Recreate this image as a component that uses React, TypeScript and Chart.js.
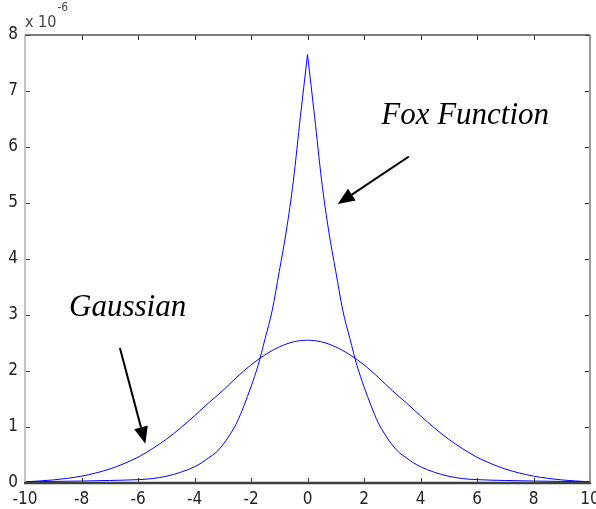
import React, { useEffect, useRef } from "react";
import { Chart, registerables } from "chart.js";
Chart.register(...registerables);

// Gaussian curve (units of 1e-6)
const gaussX = [-10, -9.5, -9, -8.5, -8, -7.5, -7, -6.5, -6, -5.5, -5, -4.5, -4, -3.5, -3, -2.5, -2, -1.5, -1, -0.5, 0,
  0.5, 1, 1.5, 2, 2.5, 3, 3.5, 4, 4.5, 5, 5.5, 6, 6.5, 7, 7.5, 8, 8.5, 9, 9.5, 10];
const gaussY = [0.022, 0.036, 0.055, 0.083, 0.123, 0.178, 0.25, 0.345, 0.46, 0.61, 0.78, 0.98, 1.2, 1.43, 1.65, 1.89, 2.11, 2.29, 2.43, 2.52, 2.55,
  2.52, 2.43, 2.29, 2.11, 1.89, 1.65, 1.43, 1.2, 0.98, 0.78, 0.61, 0.46, 0.345, 0.25, 0.178, 0.123, 0.083, 0.055, 0.036, 0.022];

// Fox function curve
const foxX = [-10, -9, -8, -7, -6, -5.5, -5, -4.5, -4, -3.75, -3.5, -3.25, -3, -2.75, -2.5, -2.25, -2, -1.75, -1.5, -1.25, -1, -0.75, -0.5, -0.25, 0,
  0.25, 0.5, 0.75, 1, 1.25, 1.5, 1.75, 2, 2.25, 2.5, 2.75, 3, 3.25, 3.5, 3.75, 4, 4.5, 5, 5.5, 6, 7, 8, 9, 10];
const foxY = [0.022, 0.028, 0.035, 0.045, 0.06, 0.078, 0.12, 0.19, 0.29, 0.36, 0.45, 0.54, 0.68, 0.86, 1.08, 1.38, 1.72, 2.1, 2.58, 3.08, 3.78, 4.5, 5.4, 6.55, 7.65,
  6.55, 5.4, 4.5, 3.78, 3.08, 2.58, 2.1, 1.72, 1.38, 1.08, 0.86, 0.68, 0.54, 0.45, 0.36, 0.29, 0.19, 0.12, 0.078, 0.06, 0.045, 0.035, 0.028, 0.022];

const xTicks = [-10, -8, -6, -4, -2, 0, 2, 4, 6, 8, 10];
const yTicks = [0, 1, 2, 3, 4, 5, 6, 7, 8];

// annotations: text anchored at data coords, arrows [x0, y0, x1, y1] in data units
const labelFox = { text: "Fox Function", x: 2.61, y: 6.41 };
const labelGauss = { text: "Gaussian", x: -8.44, y: 2.98 };
const arrowFox = [3.59, 5.83, 1.07, 4.98];
const arrowGauss = [-6.64, 2.41, -5.74, 0.7];

const tickFont = '"Liberation Sans Narrow", "DejaVu Sans Condensed", "Liberation Sans", Arial, sans-serif';

const decor = {
  id: "decor",
  afterDraw(chart: any) {
    const { ctx, chartArea, scales } = chart;
    const { left, right, top, bottom } = chartArea;
    const xs = scales.x;
    const ys = scales.y;
    ctx.save();
    // inside tick marks
    ctx.strokeStyle = "#333";
    ctx.lineWidth = 1;
    ctx.beginPath();
    xTicks.forEach((v) => {
      const px = Math.round(xs.getPixelForValue(v)) + 0.5;
      ctx.moveTo(px, bottom);
      ctx.lineTo(px, bottom - 5);
      ctx.moveTo(px, top);
      ctx.lineTo(px, top + 5);
    });
    yTicks.forEach((v) => {
      const py = Math.round(ys.getPixelForValue(v)) + 0.5;
      ctx.moveTo(left, py);
      ctx.lineTo(left + 5, py);
      ctx.moveTo(right, py);
      ctx.lineTo(right - 5, py);
    });
    ctx.stroke();
    // box
    ctx.lineWidth = 2;
    ctx.strokeStyle = "#c4c4c4";
    ctx.beginPath(); ctx.moveTo(left, top); ctx.lineTo(left, bottom); ctx.stroke();
    ctx.strokeStyle = "#9a9a9a";
    ctx.beginPath(); ctx.moveTo(right, top); ctx.lineTo(right, bottom); ctx.stroke();
    ctx.strokeStyle = "#555";
    ctx.lineWidth = 1.5;
    ctx.beginPath(); ctx.moveTo(left, top); ctx.lineTo(right, top); ctx.stroke();
    ctx.strokeStyle = "#404040";
    ctx.lineWidth = 2.5;
    ctx.beginPath(); ctx.moveTo(left - 1, bottom); ctx.lineTo(right + 1, bottom); ctx.stroke();

    // exponent label
    ctx.fillStyle = "#444";
    ctx.textBaseline = "alphabetic";
    ctx.textAlign = "left";
    ctx.font = `16px ${tickFont}`;
    ctx.fillText("x 10", left, top - 8);
    const w = ctx.measureText("x 10").width;
    ctx.font = `12px ${tickFont}`;
    ctx.fillText("-6", left + w + 1, top - 24);

    // annotation texts
    ctx.fillStyle = "#000";
    ctx.font = 'italic 31px "Liberation Serif", "Times New Roman", serif';
    ctx.fillText(labelFox.text, xs.getPixelForValue(labelFox.x), ys.getPixelForValue(labelFox.y));
    ctx.fillText(labelGauss.text, xs.getPixelForValue(labelGauss.x), ys.getPixelForValue(labelGauss.y));

    // arrows
    const drawArrow = (a: number[]) => {
      const x0 = xs.getPixelForValue(a[0]);
      const y0 = ys.getPixelForValue(a[1]);
      const x1 = xs.getPixelForValue(a[2]);
      const y1 = ys.getPixelForValue(a[3]);
      const ang = Math.atan2(y1 - y0, x1 - x0);
      const headLen = 17;
      const headHalf = 7;
      const bx = x1 - headLen * Math.cos(ang);
      const by = y1 - headLen * Math.sin(ang);
      ctx.strokeStyle = "#000";
      ctx.lineWidth = 2;
      ctx.beginPath();
      ctx.moveTo(x0, y0);
      ctx.lineTo(bx, by);
      ctx.stroke();
      ctx.fillStyle = "#000";
      ctx.beginPath();
      ctx.moveTo(x1, y1);
      ctx.lineTo(bx + headHalf * Math.sin(ang), by - headHalf * Math.cos(ang));
      ctx.lineTo(bx - headHalf * Math.sin(ang), by + headHalf * Math.cos(ang));
      ctx.closePath();
      ctx.fill();
    };
    drawArrow(arrowFox);
    drawArrow(arrowGauss);
    ctx.restore();
  },
};

export default function App() {
  const ref = useRef<HTMLCanvasElement>(null);
  useEffect(() => {
    document.body.style.margin = "0";
    const canvas = ref.current;
    if (!canvas) return;
    const foxPts = foxX.map((x, i) => ({ x, y: foxY[i] }));
    const peak = foxY.indexOf(Math.max(...foxY));
    const lineStyle = {
      showLine: true,
      borderColor: "#0000ff",
      borderWidth: 1,
      pointRadius: 0,
      cubicInterpolationMode: "monotone" as const,
    };
    const chart = new Chart(canvas, {
      type: "scatter",
      data: {
        datasets: [
          { label: "Gaussian", data: gaussX.map((x, i) => ({ x, y: gaussY[i] })), ...lineStyle },
          { label: "Fox Function", data: foxPts.slice(0, peak + 1), ...lineStyle },
          { label: "Fox Function (right)", data: foxPts.slice(peak), ...lineStyle },
        ],
      },
      options: {
        animation: false,
        responsive: false,
        devicePixelRatio: 1,
        layout: { padding: { top: 35, right: 6, left: 0, bottom: 0 } },
        plugins: { legend: { display: false }, tooltip: { enabled: false } },
        scales: {
          x: {
            type: "linear",
            min: -10,
            max: 10,
            afterFit: (s: any) => { s.height = 26; s.paddingLeft = 0; s.paddingRight = 0; },
            afterBuildTicks: (s: any) => { s.ticks = xTicks.map((v) => ({ value: v })); },
            grid: { display: false, drawTicks: false },
            border: { display: false },
            ticks: { padding: 6, color: "#222", font: { family: tickFont, size: 17 }, maxRotation: 0, autoSkip: false },
          },
          y: {
            type: "linear",
            min: 0,
            max: 8,
            afterFit: (s: any) => { s.width = 25; s.paddingTop = 0; s.paddingBottom = 0; },
            afterBuildTicks: (s: any) => { s.ticks = yTicks.map((v) => ({ value: v })); },
            grid: { display: false, drawTicks: false },
            border: { display: false },
            ticks: { padding: 7, color: "#222", font: { family: tickFont, size: 17 }, autoSkip: false },
          },
        },
      },
      plugins: [decor],
    });
    return () => chart.destroy();
  }, []);
  return (
    <div style={{ width: 596, height: 509 }}>
      <canvas ref={ref} width={596} height={509} style={{ display: "block" }} />
    </div>
  );
}
